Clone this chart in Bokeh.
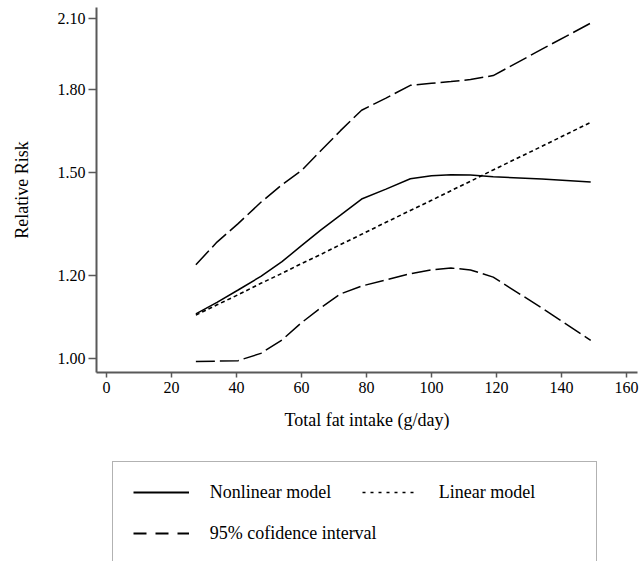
from bokeh.plotting import figure
from bokeh.layouts import column
from bokeh.models import Range1d, FixedTicker, PrintfTickFormatter, Legend, LegendItem
from bokeh.embed import file_html
from bokeh.resources import INLINE

# ---- data ----
fat_intake = [27.5, 34, 40.5, 47.5, 54, 60, 66, 72, 78.5, 86, 93.5, 100, 106, 112, 119, 134, 149]
rr_nonlinear = [1.103, 1.131, 1.162, 1.197, 1.236, 1.280, 1.325, 1.368, 1.417, 1.448, 1.481,
                1.491, 1.494, 1.493, 1.488, 1.480, 1.471]
rr_linear = [1.100, 1.125, 1.150, 1.179, 1.205, 1.231, 1.256, 1.283, 1.312, 1.347, 1.382,
             1.413, 1.443, 1.473, 1.510, 1.590, 1.675]
ci_upper = [1.228, 1.290, 1.343, 1.407, 1.462, 1.508, 1.575, 1.645, 1.720, 1.766, 1.816,
            1.824, 1.831, 1.839, 1.855, 1.965, 2.080]
ci_lower = [0.994, 0.995, 0.996, 1.012, 1.042, 1.082, 1.118, 1.152, 1.172, 1.188, 1.204,
            1.214, 1.219, 1.214, 1.195, 1.117, 1.041]

x_ticks = [0, 20, 40, 60, 80, 100, 120, 140, 160]
y_ticks = [1.00, 1.20, 1.50, 1.80, 2.10]

x_title = "Total fat intake (g/day)"
y_title = "Relative Risk"
label_nonlinear = "Nonlinear model"
label_linear = "Linear model"
label_ci = "95% cofidence interval"

FONT = "Liberation Serif"
AXIS_COLOR = "#595959"

# ---------------- main chart ----------------
p = figure(width=640, height=440,
           x_range=Range1d(-3.08, 163.4), y_range=Range1d(0.9706, 2.152),
           y_axis_type="log", output_backend="svg", toolbar_location=None,
           min_border_left=96, min_border_right=3, min_border_top=7, min_border_bottom=68)
p.outline_line_color = None
p.xgrid.visible = False
p.ygrid.visible = False
p.background_fill_color = "white"
p.border_fill_color = "white"

p.line(fat_intake, rr_nonlinear, line_color="black", line_width=1.5)
p.line(fat_intake, rr_linear, line_color="black", line_width=1.6, line_dash="4 3")
p.line(fat_intake, ci_upper, line_color="black", line_width=1.5, line_dash="19 5")
p.line(fat_intake, ci_lower, line_color="black", line_width=1.5, line_dash="19 5")

for ax in (p.xaxis[0], p.yaxis[0]):
    ax.axis_line_color = AXIS_COLOR
    ax.axis_line_width = 2
    ax.major_tick_line_color = AXIS_COLOR
    ax.major_tick_line_width = 1.5
    ax.major_tick_in = 0
    ax.minor_tick_line_color = None
    ax.major_label_text_font = FONT
    ax.major_label_text_font_size = "16px"
    ax.major_label_text_color = "black"
    ax.axis_label_text_font = FONT
    ax.axis_label_text_font_size = "18px"
    ax.axis_label_text_font_style = "normal"
    ax.axis_label_text_color = "black"

p.xaxis.ticker = FixedTicker(ticks=x_ticks)
p.xaxis.major_tick_out = 5
p.xaxis.major_label_standoff = 4
p.xaxis.axis_label = x_title
p.xaxis.axis_label_standoff = 14

p.yaxis.ticker = FixedTicker(ticks=y_ticks)
p.yaxis.formatter = PrintfTickFormatter(format="%.2f")
p.yaxis.major_tick_out = 8
p.yaxis.major_label_standoff = 3
p.yaxis.axis_label = y_title
p.yaxis.axis_label_standoff = 23

# ---------------- legend strip ----------------
lg = figure(width=640, height=121, x_range=Range1d(0, 1), y_range=Range1d(0, 1),
            output_backend="svg", toolbar_location=None,
            x_axis_location=None, y_axis_location=None,
            min_border_left=0, min_border_right=0, min_border_top=0, min_border_bottom=0)
lg.outline_line_color = None
lg.xgrid.visible = False
lg.ygrid.visible = False
lg.background_fill_color = "white"
lg.border_fill_color = "white"

# legend swatch renderers (a single NaN point: nothing drawn in the frame)
nan = float("nan")
sw_nl = lg.line([nan], [nan], line_color="black", line_width=2)
sw_lin = lg.line([nan], [nan], line_color="black", line_width=1.6, line_dash="3 5")
sw_ci = lg.line([nan], [nan], line_color="black", line_width=2, line_dash="13 9")

legend_main = Legend(
    items=[LegendItem(label=label_nonlinear, renderers=[sw_nl]),
           LegendItem(label=label_ci, renderers=[sw_ci])],
    location=(15.7, -3.8), orientation="vertical",
    padding=20, spacing=20, margin=0,
    glyph_width=56, glyph_height=20, label_height=20, label_standoff=21, label_width=366,
    border_line_color="#666666", border_line_width=1.5,
    background_fill_color="white", background_fill_alpha=1.0,
    label_text_font=FONT, label_text_font_size="18px", label_text_color="black",
)
legend_lin = Legend(
    items=[LegendItem(label=label_linear, renderers=[sw_lin])],
    location=(265.7, 58.3), orientation="vertical",
    padding=0, spacing=0, margin=0,
    glyph_width=55, glyph_height=20, label_height=20, label_standoff=22,
    border_line_color=None, background_fill_alpha=0.0,
    label_text_font=FONT, label_text_font_size="18px", label_text_color="black",
)
lg.add_layout(legend_main, "center")
lg.add_layout(legend_lin, "center")

layout = column(p, lg, spacing=0)
open("out.html", "w").write(file_html(layout, INLINE))
